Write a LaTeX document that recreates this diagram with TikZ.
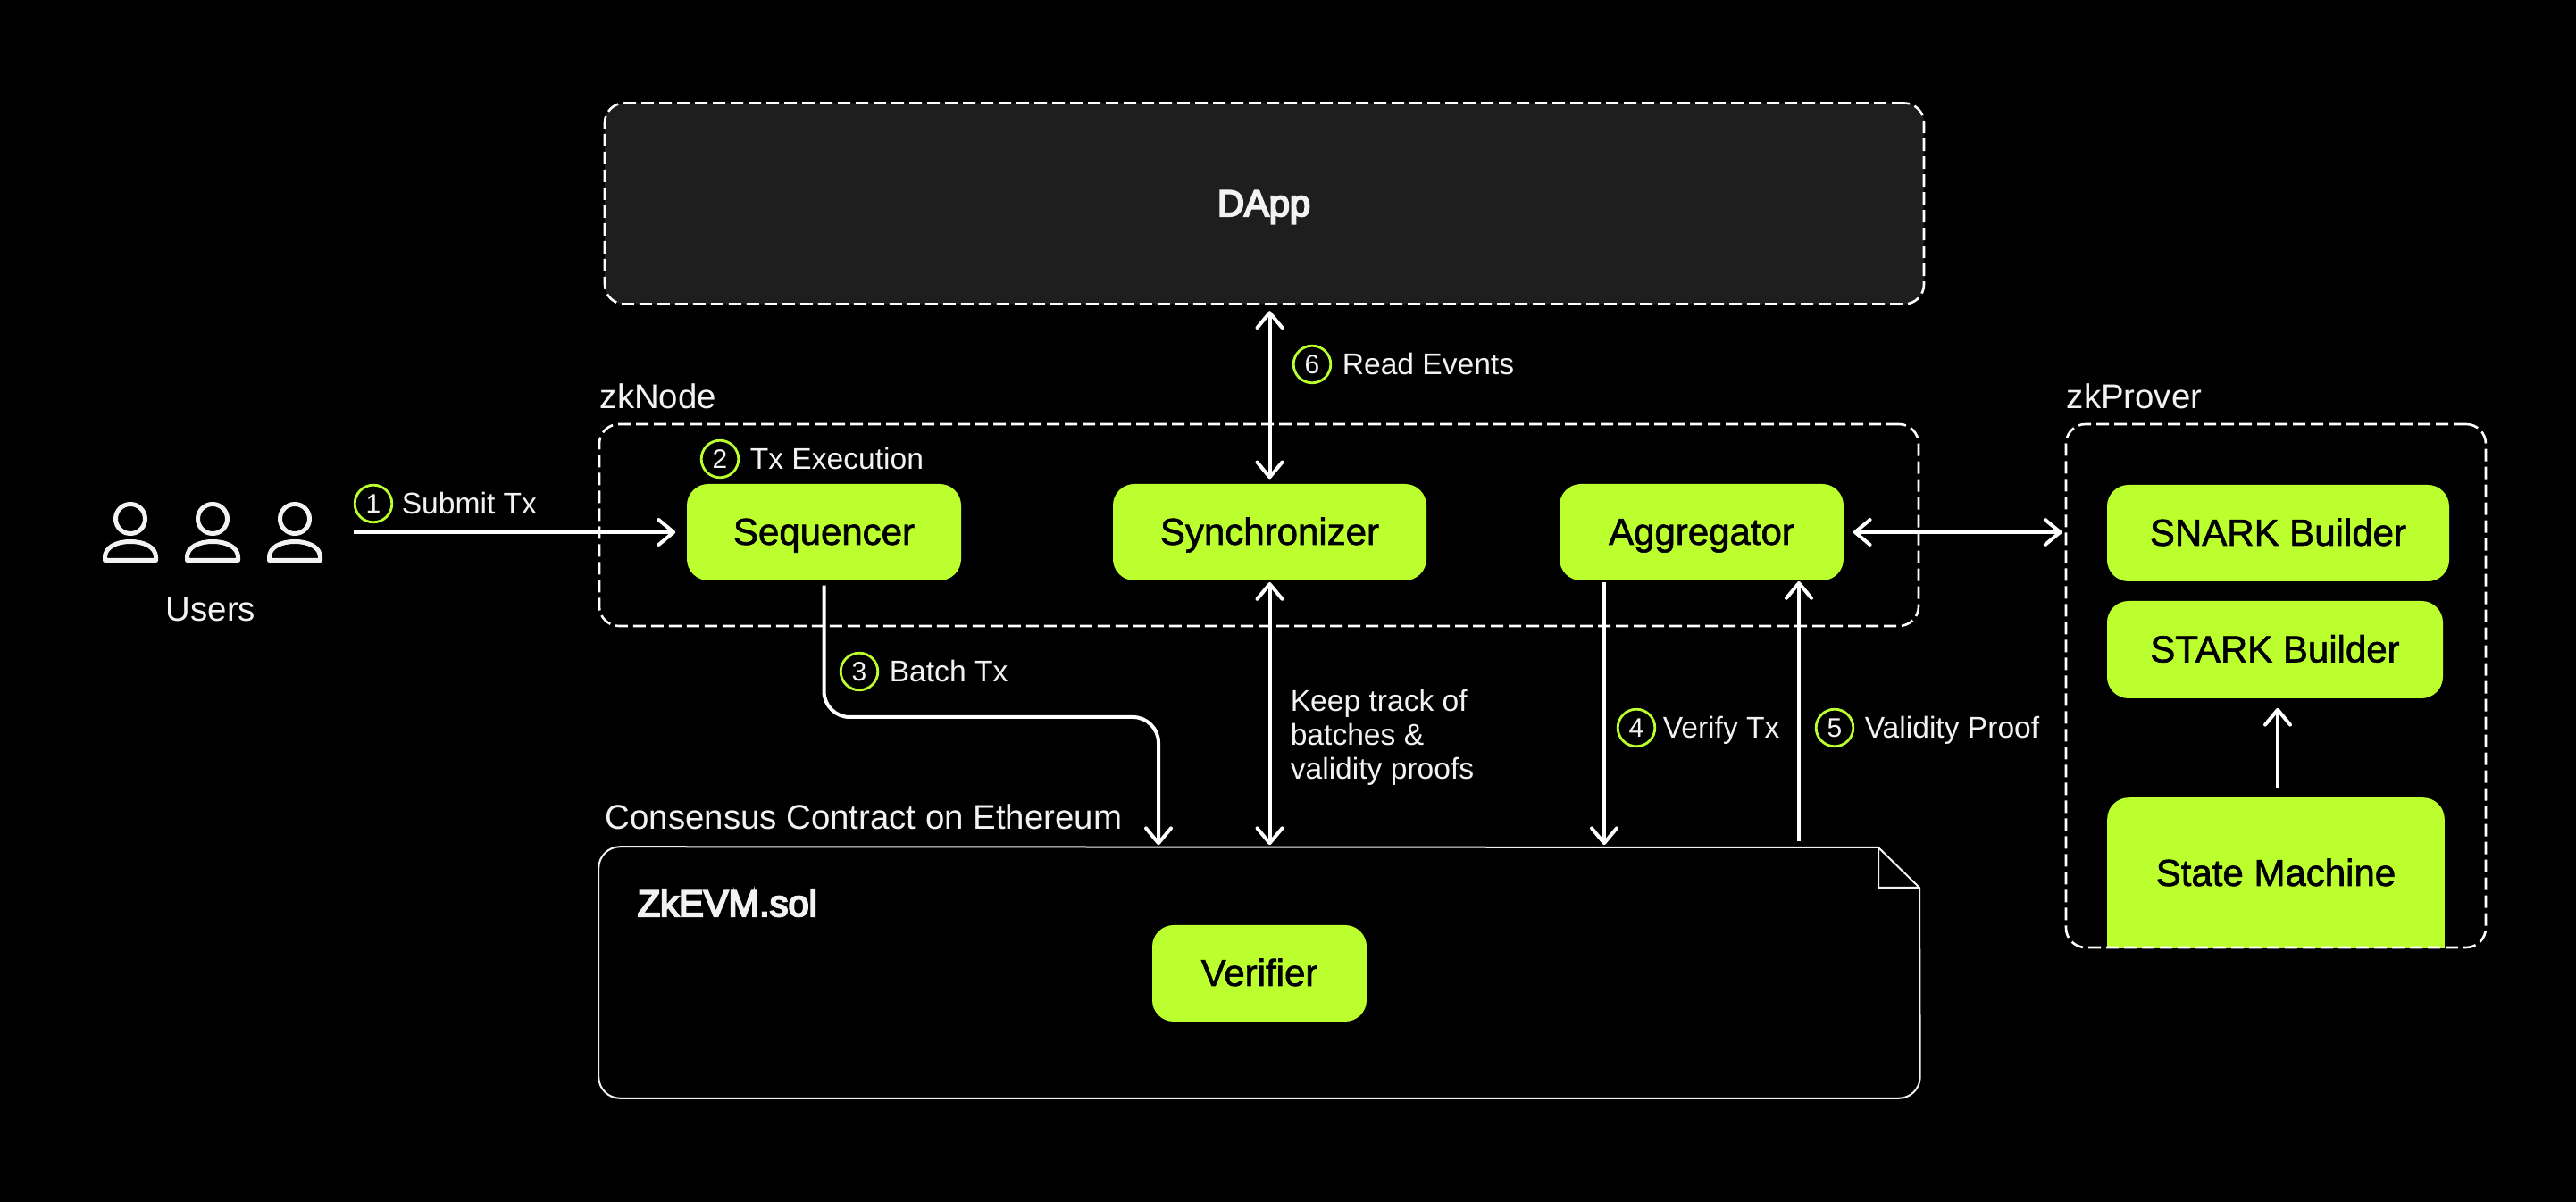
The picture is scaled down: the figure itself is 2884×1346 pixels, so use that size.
\documentclass[tikz,border=0pt]{standalone}
\usepackage{fontspec}
\setmainfont{Liberation Sans}
\newfontface\medfont{Liberation Sans}[FakeBold=1.5]
\newfontface\semifont{Liberation Sans}[FakeBold=5]
\usetikzlibrary{arrows.meta}
\definecolor{lime}{HTML}{BCFF2F}
\definecolor{ink}{HTML}{F2F2F2}
\definecolor{panel}{HTML}{1E1E1E}
\tikzset{
  x=0.25pt,y=-0.25pt,
  tip/.tip={Straight Barb[length=4.2pt,width=7pt,line width=1pt,round]},
  arr/.style={draw=white,line width=1pt,-{tip}},
  biarr/.style={draw=white,line width=1pt,{tip}-{tip}},
  greenbox/.style={fill=lime,rounded corners=6pt,inner sep=0pt,text=black,text height=7pt,text depth=0pt,font=\medfont\fontsize{10.5pt}{12pt}\selectfont},
  blacklabel/.style={text=black,text height=7pt,text depth=0pt,font=\medfont\fontsize{10.5pt}{12pt}\selectfont,inner sep=0pt},
  heading/.style={text=ink,text height=7pt,text depth=0pt,font=\semifont\fontsize{10.4pt}{12pt}\selectfont,inner sep=0pt},
  dashbox/.style={draw=white,line width=0.65pt,dash pattern=on 3.5pt off 1.5pt,rounded corners=5.5pt,inner sep=0pt},
  title/.style={text=ink,text height=6.6pt,text depth=0pt,font=\fontsize{9.6pt}{12pt}\selectfont,inner sep=0pt},
  note/.style={text=ink,text height=5.8pt,text depth=0pt,font=\fontsize{8.4pt}{10pt}\selectfont,inner sep=0pt,anchor=west},
  num/.style={circle,draw=lime,line width=0.7pt,minimum size=10.4pt,inner sep=0pt,text=ink,text height=5.2pt,text depth=0pt,font=\fontsize{7.5pt}{9pt}\selectfont},
  usericon/.style={draw=ink,line width=1.25pt,line join=round},
  boxsize/.style 2 args={minimum width=#1*0.25pt,minimum height=#2*0.25pt},
}
\begin{document}
\begin{tikzpicture}
\useasboundingbox[fill=black] (0,0) rectangle (2884,1346);

% containers
\node[dashbox,fill=panel,boxsize={1477}{225}] (dapp) at (1415.5,228) {};
\node[heading] (dapplabel) at (1415,228) {DApp};
\node[dashbox,boxsize={1477}{226}] (zknode) at (1409.5,588) {};
\node[title,anchor=west] (zknodelabel) at (671,444) {zkNode};
\node[title,anchor=west] (zkproverlabel) at (2313,444) {zkProver};

% contract document
\node[inner sep=0pt,boxsize={1478}{280}] (contract) at (1410,1089) {};
\draw[draw=ink,line width=0.5pt,line join=round,rounded corners=6pt]
  (2149,994) -- (contract.south east) -- (contract.south west) -- (contract.north west) -- (2103,949);
\draw[draw=ink,line width=0.5pt,line join=round] (2103,949) -- (2149,994) -- (2103,994) -- cycle;
\node[title,anchor=west] (contractlabel) at (677,915) {Consensus Contract on Ethereum};
\node[heading,anchor=west] (zkevm) at (713,1012) {ZkEVM.sol};

% green boxes
\node[greenbox,boxsize={307}{108}] (seq) at (922.5,596) {Sequencer};
\node[greenbox,boxsize={351}{108}] (sync) at (1421.5,596) {Synchronizer};
\node[greenbox,boxsize={318}{108}] (agg) at (1905,596) {Aggregator};
\node[greenbox,boxsize={240}{108}] (ver) at (1410,1090) {Verifier};
\node[greenbox,boxsize={383}{108}] (snark) at (2550.5,597) {SNARK Builder};
\node[greenbox,boxsize={376}{109}] (stark) at (2547,727.5) {STARK Builder};
\node[inner sep=0pt,boxsize={376}{167}] (state) at (2548,977.5) {};
\fill[lime,rounded corners=6pt] (state.south west) -- (state.north west) -- (state.north east) -- (state.south east) -- cycle;
\fill[lime] (state.west) rectangle (state.south east);
\node[blacklabel] (statelabel) at (2548,978) {State Machine};
\node[dashbox,boxsize={470}{586}] (zkprover) at (2548,768) {};

% users
\foreach \cx in {146,238,330}{
  \draw[usericon] (\cx,581) circle [radius=16.5];
  \draw[usericon] (\cx-28.5,627.5) -- (\cx-28.5,624) .. controls (\cx-28.5,613) and (\cx-16,606.5) .. (\cx,606.5)
     .. controls (\cx+16,606.5) and (\cx+28.5,613) .. (\cx+28.5,624) -- (\cx+28.5,627.5) -- cycle;
}
\node[title] (users) at (236,682) {Users};

% connectors
\coordinate (submitstart) at (396,596);
\draw[arr,shorten >=3pt] (submitstart) -- (seq.west);
\coordinate (batchturn) at (1297,803);
\draw[arr,rounded corners=7.2pt,shorten <=1.2pt,shorten >=0.5pt] (seq.south) |- (batchturn) -- (contract.north -| batchturn);
\draw[biarr,shorten <=1.6pt,shorten >=1.2pt] (sync.north |- dapp.south) -- (sync.north);
\draw[biarr,shorten <=0.3pt,shorten >=0.5pt] (sync.south) -- (sync.south |- contract.north);
\coordinate (verifyx) at (1796,651);
\coordinate (proofx) at (2014,651);
\draw[arr,shorten <=0.3pt,shorten >=0.5pt] (verifyx) -- (verifyx |- contract.north);
\draw[arr,shorten <=1.5pt] (proofx |- contract.north) -- (proofx);
\draw[biarr,shorten <=2.5pt,shorten >=0.8pt] (agg.east) -- (agg.east -| zkprover.west);
\coordinate (statetop) at (2550,882);
\draw[arr,shorten >=2.5pt] (statetop) -- (statetop |- stark.south);

% numbered labels
\node[num] (n1) at (418,564) {1};
\node[note] (t1) at (449,564) {Submit Tx};
\node[num] (n2) at (806,514) {2};
\node[note] (t2) at (839,514) {Tx Execution};
\node[num] (n3) at (962,752) {3};
\node[note] (t3) at (995,752) {Batch Tx};
\node[num] (n4) at (1832,815) {4};
\node[note] (t4) at (1861,815) {Verify Tx};
\node[num] (n5) at (2054,815) {5};
\node[note] (t5) at (2087,815) {Validity Proof};
\node[num] (n6) at (1469,408) {6};
\node[note] (t6) at (1502,408) {Read Events};
\node[align=left,anchor=west,inner sep=0pt,text=ink,font=\fontsize{8.4pt}{9.5pt}\selectfont] (keep) at (1444,826) {Keep track of\\batches \&\\validity proofs};
\end{tikzpicture}
\end{document}
